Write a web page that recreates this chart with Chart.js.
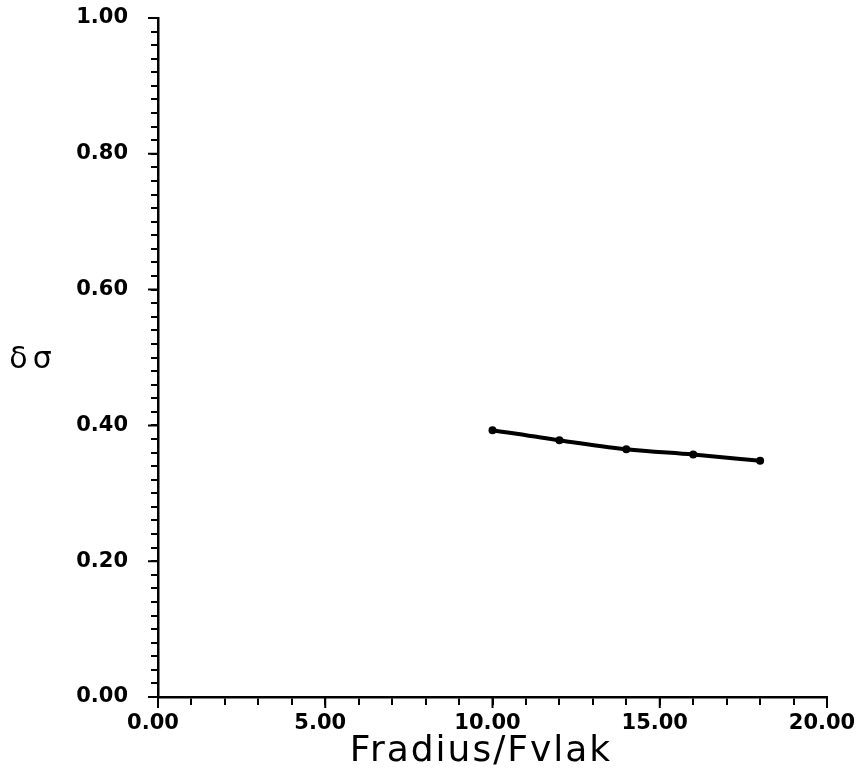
<!DOCTYPE html>
<html>
<head>
<meta charset="utf-8">
<script src="https://cdn.jsdelivr.net/npm/chart.js@4"></script>
<style>
  html, body { margin: 0; padding: 0; background: #fff; }
  #wrap { width: 858px; height: 781px; }
</style>
</head>
<body>
<div id="wrap"><canvas id="myChart" width="858" height="781"></canvas></div>
<script>
// values
var xValues = [10, 12, 14, 16, 18];
var yValues = [0.393, 0.378, 0.365, 0.357, 0.348];
var xTitle = 'Fradius/Fvlak';
var yTitle = 'δσ';

var points = [];
for (var i = 0; i < xValues.length; i++) {
    points.push({x: xValues[i], y: yValues[i]});
}

function isMajor(v, step) {
    var r = v / step;
    return Math.abs(r - Math.round(r)) < 1e-6;
}

// axis titles: y title is horizontal, so draw both by hand
// also make the major ticks a bit longer than the minor ones
const extras = {
    id: 'extras',
    afterDraw(chart) {
        var ctx = chart.ctx;
        var area = chart.chartArea;
        var xs = chart.scales.x, ys = chart.scales.y;
        ctx.save();
        ctx.strokeStyle = '#000';
        ctx.lineWidth = 2;
        ctx.beginPath();
        for (var v = 0; v <= 20; v += 5) {
            var px = xs.getPixelForValue(v);
            ctx.moveTo(px, area.bottom);
            ctx.lineTo(px, area.bottom + 11);
        }
        for (var k = 0; k <= 5; k++) {
            var py = ys.getPixelForValue(k * 0.2);
            ctx.moveTo(area.left, py);
            ctx.lineTo(area.left - 10, py);
        }
        ctx.stroke();

        ctx.fillStyle = '#000';
        ctx.textAlign = 'center';
        ctx.textBaseline = 'middle';
        ctx.font = '36px "DejaVu Sans"';
        if ('letterSpacing' in ctx) ctx.letterSpacing = '2px';
        ctx.fillText(xTitle, 481, 752);
        ctx.font = '30px "DejaVu Sans"';
        if ('letterSpacing' in ctx) ctx.letterSpacing = '5px';
        ctx.fillText(yTitle, 33, 360);
        ctx.restore();
    }
};

const ctx = document.getElementById('myChart');
const myChart = new Chart(ctx, {
    type: 'line',
    data: {
        datasets: [{
            data: points,
            borderColor: '#000',
            backgroundColor: '#000',
            borderWidth: 4,
            pointRadius: 4,
            pointBorderWidth: 0,
            tension: 0.3,
            cubicInterpolationMode: 'monotone',
            fill: false
        }]
    },
    options: {
        responsive: false,
        animation: false,
        layout: {
            padding: {left: 0, top: 18, right: 31, bottom: 0}
        },
        plugins: {
            legend: {display: false},
            tooltip: {enabled: false}
        },
        scales: {
            x: {
                type: 'linear',
                min: 0,
                max: 20,
                afterFit: function(scale) {
                    scale.height = 84;
                    scale.paddingLeft = 0;
                    scale.paddingRight = 0;
                },
                border: {display: true, color: '#000', width: 2.5},
                grid: {
                    drawOnChartArea: false,
                    drawTicks: true,
                    tickLength: 8,
                    color: '#000',
                    lineWidth: 2
                },
                ticks: {
                    stepSize: 1,
                    autoSkip: false,
                    maxRotation: 0,
                    padding: 6,
                    labelOffset: -5,
                    color: '#000',
                    font: {family: 'DejaVu Sans', size: 21, weight: 'bold'},
                    callback: function(v) {
                        return isMajor(v, 5) ? v.toFixed(2) : '';
                    }
                }
            },
            y: {
                type: 'linear',
                min: 0,
                max: 1,
                afterFit: function(scale) {
                    scale.width = 158;
                    scale.paddingTop = 0;
                    scale.paddingBottom = 0;
                },
                border: {display: true, color: '#000', width: 2.5},
                grid: {
                    drawOnChartArea: false,
                    drawTicks: true,
                    tickLength: 7,
                    color: '#000',
                    lineWidth: 2
                },
                ticks: {
                    stepSize: 0.02,
                    autoSkip: false,
                    padding: 23,
                    color: '#000',
                    font: {family: 'DejaVu Sans', size: 21, weight: 'bold'},
                    callback: function(v) {
                        return isMajor(v, 0.2) ? v.toFixed(2) : '';
                    }
                }
            }
        }
    },
    plugins: [extras]
});
</script>
</body>
</html>
